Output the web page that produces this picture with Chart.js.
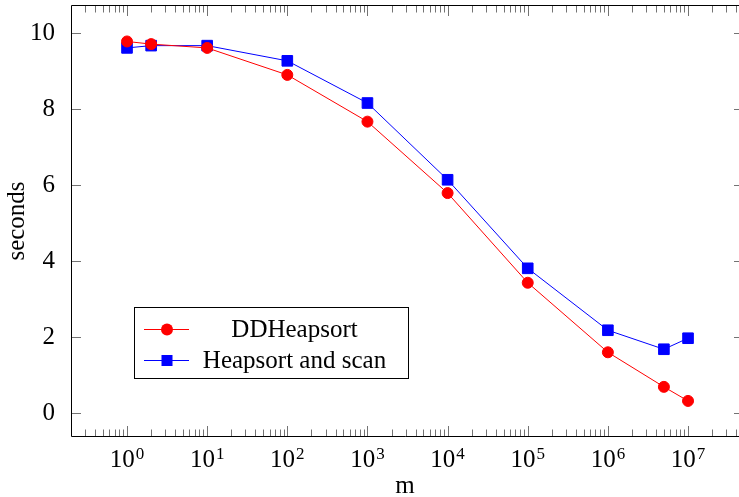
<!DOCTYPE html>
<html>
<head>
<meta charset="utf-8">
<script src="https://cdn.jsdelivr.net/npm/chart.js@4/dist/chart.umd.min.js"></script>
<style>
  html, body { margin: 0; padding: 0; background: #fff; }
  #wrap { width: 739px; height: 497px; }
</style>
</head>
<body>
<div id="wrap"><canvas id="chart" width="739" height="497"></canvas></div>
<script>
// values
const mValues = [1, 2, 10, 100, 1000, 1e4, 1e5, 1e6, 5e6, 1e7];
const ddHeapsort = [9.79, 9.72, 9.62, 8.91, 7.68, 5.80, 3.44, 1.61, 0.70, 0.33];
const heapsortScan = [9.62, 9.68, 9.68, 9.28, 8.17, 6.15, 3.82, 2.19, 1.69, 1.98];
const xExponents = [0, 1, 2, 3, 4, 5, 6, 7];
const yTicks = [0, 2, 4, 6, 8, 10];
const legendLabels = ['DDHeapsort', 'Heapsort and scan'];

const FONT = "'Liberation Serif', 'Times New Roman', serif";
const RED = '#ff0000';
const BLUE = '#0000ff';

const toPoints = (ys) => mValues.map((x, i) => ({ x: x, y: ys[i] }));

// no extra room around the plot area
function noPadding(scale) {
    scale.paddingTop = 0;
    scale.paddingBottom = 0;
    scale.paddingLeft = 0;
    scale.paddingRight = 0;
}

// frame, inward ticks, x labels with exponents, legend box
const pgfLook = {
    id: 'pgfLook',
    afterDraw(chart) {
        const ctx = chart.ctx;
        const area = chart.chartArea;
        const xs = chart.scales.x;
        const ys = chart.scales.y;
        ctx.save();

        // tick marks
        ctx.strokeStyle = 'rgba(0,0,0,0.55)';
        ctx.lineWidth = 1;
        ctx.beginPath();
        for (let k = -1; k <= 7; k++) {
            for (let m = 1; m <= 9; m++) {
                const v = m * Math.pow(10, k);
                if (v < xs.min || v > xs.max) continue;
                const px = Math.round(xs.getPixelForValue(v)) + 0.5;
                const len = m === 1 ? 10 : 6.5;
                ctx.moveTo(px, area.bottom);
                ctx.lineTo(px, area.bottom - len);
                ctx.moveTo(px, area.top);
                ctx.lineTo(px, area.top + len);
            }
        }
        yTicks.forEach(v => {
            const py = Math.round(ys.getPixelForValue(v)) + 0.5;
            ctx.moveTo(area.left, py);
            ctx.lineTo(area.left + 10, py);
            ctx.moveTo(area.right, py);
            ctx.lineTo(area.right - 5, py);
        });
        ctx.stroke();

        // frame (right side lies outside the picture)
        ctx.strokeStyle = '#000';
        ctx.beginPath();
        ctx.moveTo(area.right + 1, area.top - 0.5);
        ctx.lineTo(area.left + 0.5, area.top - 0.5);
        ctx.lineTo(area.left + 0.5, area.bottom + 0.5);
        ctx.lineTo(area.right + 1, area.bottom + 0.5);
        ctx.stroke();

        // x tick labels 10^k
        ctx.fillStyle = '#000';
        ctx.textBaseline = 'alphabetic';
        ctx.textAlign = 'left';
        xExponents.forEach(k => {
            const px = xs.getPixelForValue(Math.pow(10, k));
            ctx.font = '25px ' + FONT;
            const wBase = ctx.measureText('10').width;
            ctx.font = '17px ' + FONT;
            const wExp = ctx.measureText(String(k)).width;
            const x0 = px - (wBase + 1 + wExp) / 2;
            ctx.font = '25px ' + FONT;
            ctx.fillText('10', x0, 467);
            ctx.font = '17px ' + FONT;
            ctx.fillText(String(k), x0 + wBase + 1, 459);
        });

        // legend
        const bx = 134.5, by = 307.5, bw = 274, bh = 71;
        ctx.fillStyle = '#fff';
        ctx.fillRect(bx, by, bw, bh);
        ctx.strokeStyle = '#000';
        ctx.strokeRect(bx, by, bw, bh);
        const rows = [329, 360];
        chart.data.datasets.forEach((ds, i) => {
            const y = rows[i];
            ctx.strokeStyle = ds.borderColor;
            ctx.lineWidth = 1;
            ctx.beginPath();
            ctx.moveTo(144, y + 0.5);
            ctx.lineTo(189, y + 0.5);
            ctx.stroke();
            ctx.fillStyle = ds.borderColor;
            if (ds.pointStyle === 'rect') {
                ctx.fillRect(167 - 5.5, y - 5, 11, 11);
            } else {
                ctx.beginPath();
                ctx.arc(167, y + 0.5, 6, 0, Math.PI * 2);
                ctx.fill();
            }
            ctx.fillStyle = '#000';
            ctx.font = '25px ' + FONT;
            ctx.textAlign = 'center';
            ctx.textBaseline = 'middle';
            ctx.fillText(legendLabels[i], 294.5, y + 1);
        });
        ctx.restore();
    }
};

new Chart(document.getElementById('chart'), {
    type: 'line',
    data: {
        datasets: [{
            label: legendLabels[0],
            data: toPoints(ddHeapsort),
            borderColor: RED,
            backgroundColor: RED,
            borderWidth: 1,
            pointStyle: 'circle',
            pointRadius: 5.5,
            pointBorderWidth: 1,
            pointBackgroundColor: RED,
            pointBorderColor: RED,
            tension: 0
        }, {
            label: legendLabels[1],
            data: toPoints(heapsortScan),
            borderColor: BLUE,
            backgroundColor: BLUE,
            borderWidth: 1,
            pointStyle: 'rect',
            pointRadius: 7.5,
            pointBorderWidth: 1,
            pointBackgroundColor: BLUE,
            pointBorderColor: BLUE,
            tension: 0
        }]
    },
    options: {
        responsive: false,
        animation: false,
        devicePixelRatio: 1,
        layout: { autoPadding: false, padding: { top: 6, right: 0, left: 0, bottom: 0 } },
        plugins: {
            legend: { display: false },
            tooltip: { enabled: false }
        },
        scales: {
            x: {
                type: 'logarithmic',
                min: Math.pow(10, -0.699),
                max: Math.pow(10, 7.636),
                grid: { display: false },
                border: { display: false },
                ticks: { display: false },
                afterFit: (scale) => { scale.height = 61; noPadding(scale); },
                title: {
                    display: true,
                    text: 'm',
                    color: '#000',
                    font: { family: FONT, size: 25, lineHeight: 1 },
                    padding: { top: 0, bottom: -2 }
                }
            },
            y: {
                min: -0.593,
                max: 10.723,
                grid: { display: false },
                border: { display: false },
                afterBuildTicks: (scale) => { scale.ticks = yTicks.map(v => ({ value: v })); },
                afterFit: (scale) => { scale.width = 71; noPadding(scale); },
                ticks: {
                    color: '#000',
                    padding: 8,
                    font: { family: FONT, size: 25 },
                    callback: (v) => String(v)
                },
                title: {
                    display: true,
                    text: 'seconds',
                    color: '#000',
                    font: { family: FONT, size: 25, lineHeight: 1 },
                    padding: { top: 5, bottom: 0 }
                }
            }
        }
    },
    plugins: [pgfLook]
});
</script>
</body>
</html>
